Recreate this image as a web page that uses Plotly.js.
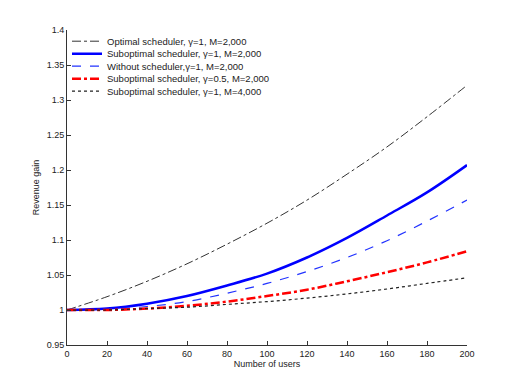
<!DOCTYPE html>
<html>
<head>
<meta charset="utf-8">
<script src="https://cdn.plot.ly/plotly-3.0.1.min.js"></script>
<style>
  html, body { margin: 0; padding: 0; background: #fff; }
  #chart { width: 517px; height: 388px; }
</style>
</head>
<body>
<div id="chart"></div>
<script>
// number of users
const users = [0, 20, 40, 60, 80, 100, 120, 140, 160, 180, 200];

// revenue gain
const optimalG1 = [1.0, 1.019, 1.041, 1.066, 1.094, 1.124, 1.157, 1.194, 1.233, 1.276, 1.321];
const suboptG1 = [1.0, 1.002, 1.009, 1.020, 1.035, 1.052, 1.075, 1.103, 1.135, 1.168, 1.207];
const withoutG1 = [1.0, 1.001, 1.005, 1.012, 1.024, 1.038, 1.055, 1.075, 1.099, 1.127, 1.157];
const suboptG05 = [1.0, 1.0, 1.002, 1.006, 1.012, 1.020, 1.029, 1.041, 1.054, 1.068, 1.084];
const suboptM4000 = [1.0, 1.0, 1.002, 1.004, 1.008, 1.012, 1.017, 1.023, 1.030, 1.038, 1.046];

const xTicks = [0, 20, 40, 60, 80, 100, 120, 140, 160, 180, 200];
const yTicks = [0.95, 1, 1.05, 1.1, 1.15, 1.2, 1.25, 1.3, 1.35, 1.4];
const yTickText = ['0.95', '1', '1.05', '1.1', '1.15', '1.2', '1.25', '1.3', '1.35', '1.4'];

const font = { family: 'Liberation Sans, Arial, sans-serif', size: 9, color: '#222' };
const legendFont = { family: 'Liberation Sans, Arial, sans-serif', size: 9.5, color: '#222' };

const traces = [
  { y: optimalG1, name: 'Optimal scheduler, γ=1, M=2,000',
    line: { color: '#333', width: 1, dash: 'dashdot' } },
  { y: suboptG1, name: 'Suboptimal scheduler, γ=1, M=2,000',
    line: { color: '#0000ff', width: 2.5, dash: 'solid' } },
  { y: withoutG1, name: 'Without scheduler,γ=1, M=2,000',
    line: { color: '#2233ff', width: 1.2, dash: 'dash' } },
  { y: suboptG05, name: 'Suboptimal scheduler, γ=0.5, M=2,000',
    line: { color: '#ff0000', width: 2.5, dash: 'dashdot' } },
  { y: suboptM4000, name: 'Suboptimal scheduler, γ=1, M=4,000',
    line: { color: '#222', width: 1.2, dash: 'dot' } }
].map((t, i) => Object.assign({
  x: users, type: 'scatter', mode: 'lines',
  legend: i === 0 ? 'legend' : 'legend' + (i + 1)
}, t));
traces.forEach(t => { t.line.shape = 'spline'; });

const axisBase = {
  showline: true, linecolor: '#333', linewidth: 1,
  ticks: 'inside', ticklen: 4, tickcolor: '#333',
  showgrid: false, zeroline: false, mirror: false,
  tickfont: font
};

const layout = {
  width: 517, height: 388,
  margin: { l: 67, r: 50, t: 30, b: 43 },
  paper_bgcolor: '#fff', plot_bgcolor: '#fff',
  font: font,
  showlegend: true,
  xaxis: Object.assign({}, axisBase, {
    range: [0, 200], tickvals: xTicks,
    title: { text: 'Number of users', font: font, standoff: 2 }
  }),
  yaxis: Object.assign({}, axisBase, {
    range: [0.95, 1.4], tickvals: yTicks, ticktext: yTickText,
    title: { text: 'Revenue gain', font: font, standoff: 5 }
  })
};

// one legend per entry so rows sit as tightly as in the original
traces.forEach((t, i) => {
  layout[t.legend] = {
    x: 0, y: 1.0105 - i * 0.0397, xanchor: 'left', yanchor: 'top',
    bgcolor: 'rgba(0,0,0,0)', borderwidth: 0, font: legendFont
  };
});

Plotly.newPlot('chart', traces, layout, { displayModeBar: false, responsive: false });
</script>
</body>
</html>
